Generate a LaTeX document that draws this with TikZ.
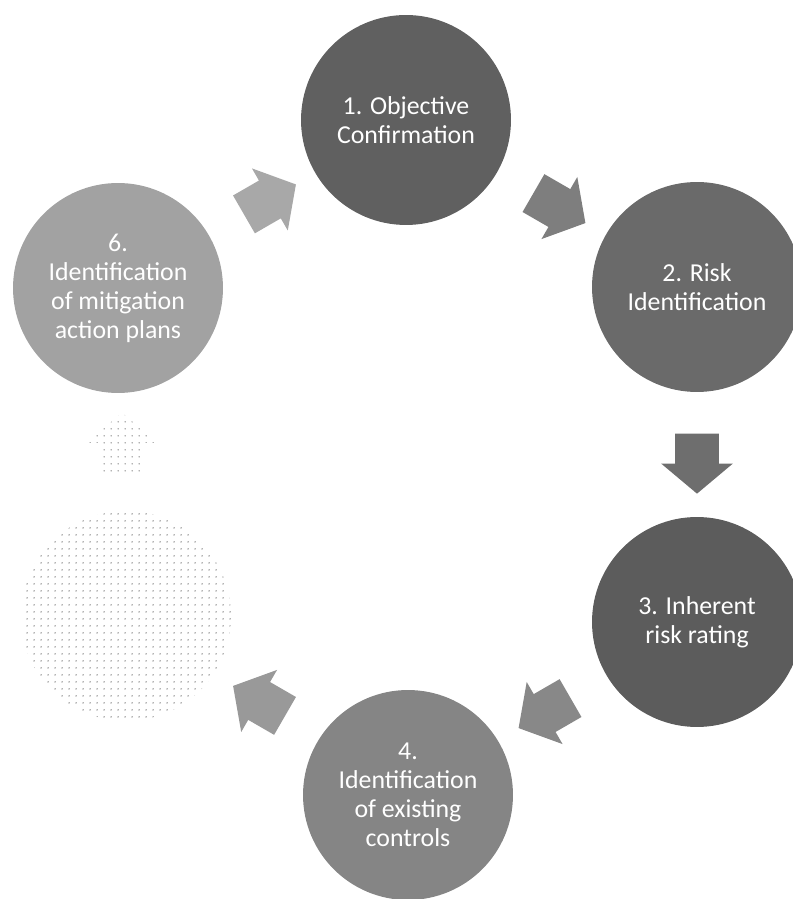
\documentclass[tikz,border=0pt]{standalone}
\usepackage{fontspec}
\setmainfont{Carlito}
\usetikzlibrary{shapes,arrows,positioning,calc,patterns.meta}

\definecolor{stageone}{HTML}{606060}
\definecolor{stagetwo}{HTML}{6A6A6A}
\definecolor{stagethree}{HTML}{5C5C5C}
\definecolor{stagefour}{HTML}{858585}
\definecolor{stagesix}{HTML}{A2A2A2}
\definecolor{arrowone}{HTML}{7E7E7E}
\definecolor{arrowtwo}{HTML}{6E6E6E}
\definecolor{arrowthree}{HTML}{888888}
\definecolor{arrowfour}{HTML}{999999}
\definecolor{arrowsix}{HTML}{A8A8A8}

\begin{document}
\begin{tikzpicture}[x=0.02cm, y=0.02cm,
    stage/.style={circle, minimum size=4.2cm, inner sep=0pt, text=white, align=center,
        font=\fontsize{14.7}{16.5}\selectfont},
    cyclearrow/.style={single arrow, minimum height=1.2cm, inner xsep=0pt, inner ysep=0.43cm,
        single arrow head extend=0.28cm, single arrow tip angle=100},
    faded/.style={pattern={Dots[distance=4pt, radius=0.45pt]}, pattern color=black!60}]
    \useasboundingbox (0,0) rectangle (792,899);

    % Stages
    \node[stage, fill=stageone] (objective) at (406,779) {1. Objective\\Confirmation};
    \node[stage, fill=stagetwo] (riskid) at (697,612) {2. Risk\\Identification};
    \node[stage, fill=stagethree] (inherent) at (697,277) {3. Inherent\\risk rating};
    \node[stage, fill=stagefour] (controls) at (408,104) {4.\\Identification\\of existing\\controls};
    \node[stage, faded] (faded) at (126,283) {};
    \node[stage, fill=stagesix] (mitigation) at (118,611) {6.\\Identification\\of mitigation\\action plans};

    % Arrows
    \node[cyclearrow, fill=arrowone, rotate=-30] (objrisk) at ($(objective)!0.5!(riskid)$) {};
    \node[cyclearrow, fill=arrowtwo, rotate=-90] (riskinh) at ($(riskid)!0.5!(inherent)$) {};
    \node[cyclearrow, fill=arrowthree, rotate=-150] (inhctl) at ($(inherent)!0.5!(controls)$) {};
    \node[cyclearrow, fill=arrowfour, rotate=150] (ctlfad) at ($(controls)!0.5!(faded)$) {};
    \node[cyclearrow, faded, rotate=90] (fadmit) at ($(faded)!0.5!(mitigation)$) {};
    \node[cyclearrow, fill=arrowsix, rotate=30] (mitobj) at ($(mitigation)!0.5!(objective)$) {};
\end{tikzpicture}
\end{document}
